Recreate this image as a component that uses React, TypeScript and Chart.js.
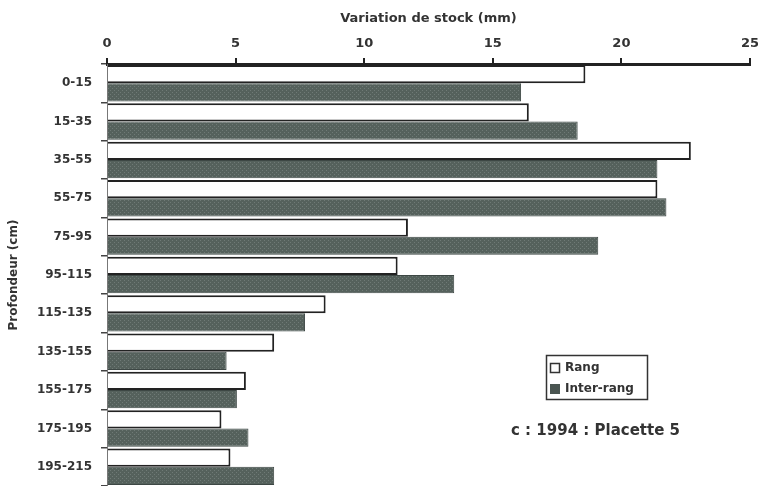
import React, { useEffect, useRef } from "react";
import { Chart, registerables } from "chart.js";

Chart.register(...registerables);

const categories = ["0-15", "15-35", "35-55", "55-75", "75-95", "95-115", "115-135", "135-155", "155-175", "175-195", "195-215"];
const rangValues = [18.6, 16.4, 22.7, 21.4, 11.7, 11.3, 8.5, 6.5, 5.4, 4.45, 4.8];
const interRangValues = [16.1, 18.3, 21.4, 21.75, 19.1, 13.5, 7.7, 4.65, 5.05, 5.5, 6.5];
const xMin = 0;
const xMax = 25;
const xStep = 5;
const xTitle = "Variation de stock (mm)";
const yTitle = "Profondeur (cm)";
const seriesNames = ["Rang", "Inter-rang"];
const caption = "c : 1994 : Placette 5";

const FONT = "'DejaVu Sans', Arial, sans-serif";

function makePattern(): CanvasPattern | string {
  const c = document.createElement("canvas");
  c.width = 4;
  c.height = 4;
  const g = c.getContext("2d");
  if (!g) return "#5b6662";
  g.fillStyle = "#55615c";
  g.fillRect(0, 0, 4, 4);
  g.fillStyle = "#6f7a76";
  g.fillRect(0, 0, 1, 1);
  g.fillRect(2, 2, 1, 1);
  const p = g.createPattern(c, "repeat");
  return p || "#5b6662";
}

const legendPlugin = {
  id: "customLegend",
  afterDraw(chart: any) {
    const ctx = chart.ctx as CanvasRenderingContext2D;
    ctx.save();
    ctx.strokeStyle = "#333";
    ctx.lineWidth = 1.5;
    ctx.strokeRect(546.5, 355.5, 101, 44);
    ctx.font = `bold 12px ${FONT}`;
    ctx.textBaseline = "middle";
    ctx.fillStyle = "#333";
    ctx.strokeRect(550.5, 363.5, 9, 9);
    ctx.fillText(seriesNames[0], 565, 368);
    ctx.fillStyle = "#4a5551";
    ctx.fillRect(550, 384, 10, 10);
    ctx.fillStyle = "#333";
    ctx.fillText(seriesNames[1], 565, 389);
    ctx.font = `bold 15px ${FONT}`;
    ctx.fillStyle = "#333";
    ctx.fillText(caption, 511, 431);
    ctx.restore();
  },
};

export default function App() {
  const ref = useRef<HTMLCanvasElement | null>(null);
  useEffect(() => {
    if (!ref.current) return;
    const pattern = makePattern();
    const chart = new Chart(ref.current, {
      type: "bar",
      data: {
        labels: categories,
        datasets: [
          {
            label: seriesNames[0],
            data: rangValues,
            backgroundColor: "#ffffff",
            borderColor: "#222222",
            borderWidth: 2,
            barPercentage: 1,
            categoryPercentage: 0.95,
          },
          {
            label: seriesNames[1],
            data: interRangValues,
            backgroundColor: pattern as any,
            borderColor: "#3d4744",
            borderWidth: 1,
            barPercentage: 1,
            categoryPercentage: 0.95,
          },
        ],
      },
      options: {
        indexAxis: "y",
        responsive: false,
        animation: false,
        layout: { padding: { left: 0, right: 8, top: 0, bottom: 0 } },
        plugins: {
          legend: { display: false },
          tooltip: { enabled: false },
        },
        scales: {
          x: {
            position: "top",
            min: xMin,
            max: xMax,
            ticks: {
              stepSize: xStep,
              font: { family: FONT, weight: "bold", size: 13 },
              color: "#333",
              padding: 7,
            },
            title: {
              display: true,
              text: xTitle,
              font: { family: FONT, weight: "bold", size: 13 },
              color: "#333",
              padding: { top: 11, bottom: 0 },
            },
            grid: {
              drawOnChartArea: false,
              drawTicks: true,
              tickLength: 6,
              color: "#222",
              lineWidth: 2,
            },
            border: { color: "#222", width: 3 },
            afterFit: (scale: any) => {
              scale.height = 64;
              scale.paddingLeft = 0;
              scale.paddingRight = 0;
            },
          },
          y: {
            ticks: {
              font: { family: FONT, weight: "bold", size: 12 },
              color: "#333",
              padding: 9,
            },
            title: {
              display: true,
              text: yTitle,
              font: { family: FONT, weight: "bold", size: 12 },
              color: "#333",
              padding: { top: 7, bottom: 0 },
            },
            grid: {
              drawOnChartArea: false,
              drawTicks: true,
              tickLength: 6,
              color: "#444",
              lineWidth: 1.5,
            },
            border: { color: "#777", width: 1 },
            afterFit: (scale: any) => {
              scale.width = 107;
              scale.paddingTop = 0;
              scale.paddingBottom = 0;
            },
          },
        },
      },
      plugins: [legendPlugin],
    } as any);
    return () => chart.destroy();
  }, []);
  return (
    <div style={{ position: "fixed", left: 0, top: 0, width: 758, height: 486, background: "#fff" }}>
      <canvas ref={ref} width={758} height={486} style={{ display: "block" }} />
    </div>
  );
}
